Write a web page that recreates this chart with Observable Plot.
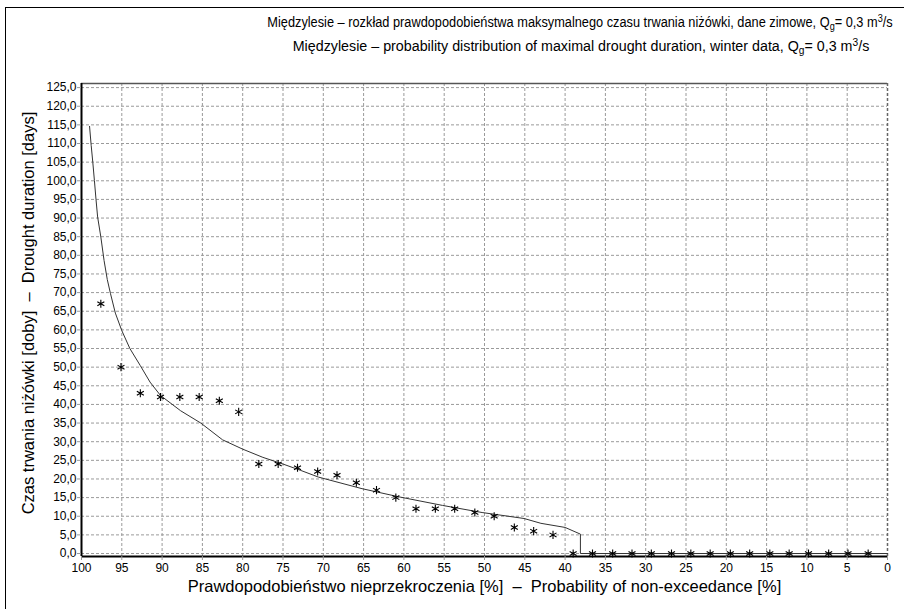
<!DOCTYPE html>
<html>
<head>
<meta charset="utf-8">
<script src="https://cdn.jsdelivr.net/npm/d3@7"></script>
<script src="https://cdn.jsdelivr.net/npm/@observablehq/plot@0.6"></script>
<style>
  body { margin: 0; background: #fff; }
  #wrap { position: relative; width: 904px; height: 609px; overflow: hidden; background: #fff;
          font-family: "Liberation Sans", Arial, sans-serif; }
  #chart { position: absolute; left: 0; top: 0; }
  #border { position: absolute; left: 5px; top: 7px; width: 1000px; height: 1000px; border: 1px solid #000; pointer-events: none; }
  .title { position: absolute; white-space: nowrap; width: max-content; font-size: 14px; color: #000; line-height: 16px;
           transform-origin: 50% 50%; transform: translate(-50%, -50%); }
  .title sub { font-size: 10px; vertical-align: -3px; line-height: 0; }
  .title sup { font-size: 10px; vertical-align: 5px; line-height: 0; }
</style>
</head>
<body>
<div id="wrap">
  <div id="chart"></div>
  <div id="border"></div>
  <div class="title" id="t1" data-w="625" style="left:580px; top:22px;">Międzylesie – rozkład prawdopodobieństwa maksymalnego czasu trwania niżówki, dane zimowe, Q<sub>g</sub>= 0,3 m<sup>3</sup>/s</div>
  <div class="title" id="t2" data-w="577" style="left:581px; top:46px;">Międzylesie – probability distribution of maximal drought duration, winter data, Q<sub>g</sub>= 0,3 m<sup>3</sup>/s</div>
</div>
<script>
// Observed points: probability of non-exceedance [%] and drought duration [days]
const pointProb = [2.4, 4.9, 7.3, 9.8, 12.2, 14.6, 17.1, 19.5, 22.0, 24.4,
                   26.8, 29.3, 31.7, 34.1, 36.6, 39.0, 41.5, 43.9, 46.3, 48.8,
                   51.2, 53.7, 56.1, 58.5, 61.0, 63.4, 65.9, 68.3, 70.7, 73.2,
                   75.6, 78.0, 80.5, 82.9, 85.4, 87.8, 90.2, 92.7, 95.1, 97.6];
const pointDays = [0, 0, 0, 0, 0, 0, 0, 0, 0, 0,
                   0, 0, 0, 0, 0, 0, 5, 6, 7, 10,
                   11, 12, 12, 12, 15, 17, 19, 21, 22, 23,
                   24, 24, 38, 41, 42, 42, 42, 43, 50, 67];

// Fitted distribution curve
const curveProb = [99.0, 98.8, 98.6, 98.4, 98.2, 98.0, 97.6, 97.2, 96.8, 96.4,
                   95.8, 95.0, 94.0, 92.7, 91.5, 90.2, 87.7, 85.2, 82.5, 80.0,
                   77.5, 75.0, 72.8, 70.6, 65.2, 60.6, 55.2, 50.3, 45.1, 43.0,
                   40.0, 38.1, 38.1, 0.0];
const curveDays = [114.6, 109.5, 105.0, 100.1, 95.0, 90.3, 84.9, 78.6, 73.5, 69.7,
                   64.5, 59.8, 55.0, 50.4, 46.0, 42.4, 38.3, 35.0, 30.5, 28.0,
                   25.8, 24.0, 22.3, 20.5, 17.4, 15.2, 12.9, 11.0, 9.4, 8.1,
                   7.0, 5.2, 0.0, 0.0];

const xTicks = [100, 95, 90, 85, 80, 75, 70, 65, 60, 55, 50, 45, 40, 35, 30, 25, 20, 15, 10, 5, 0];
const yTicks = [0, 5, 10, 15, 20, 25, 30, 35, 40, 45, 50, 55, 60, 65, 70, 75, 80, 85, 90, 95, 100, 105, 110, 115, 120, 125];

const yLabel = "Czas trwania niżówki [doby]  –  Drought duration [days]";
const xLabel = "Prawdopodobieństwo nieprzekroczenia [%]  –  Probability of non-exceedance [%]";

const points = pointProb.map((p, i) => ({p, d: pointDays[i]}));
const curve = curveProb.map((p, i) => ({p, d: curveDays[i]}));

const yMin = -0.8, yMax = 126.1;

const chart = Plot.plot({
  width: 904,
  height: 609,
  marginLeft: 81,
  marginRight: 17,
  marginTop: 83,
  marginBottom: 53,
  style: {fontFamily: "'Liberation Sans', Arial, sans-serif", fontSize: "12px", background: "transparent", color: "#000"},
  x: {domain: [100, 0], axis: null},
  y: {domain: [yMin, yMax], axis: null},
  marks: [
    Plot.gridX({ticks: xTicks, stroke: "#9a9a9a", strokeOpacity: 1, strokeDasharray: "3,2"}),
    Plot.gridY({ticks: yTicks, stroke: "#9a9a9a", strokeOpacity: 1, strokeDasharray: "3,2"}),
    Plot.ruleY([yMax], {stroke: "#555", strokeWidth: 1.5}),
    Plot.ruleX([0], {stroke: "#666", strokeWidth: 1.5, strokeDasharray: "3,2"}),
    Plot.line(curve, {x: "p", y: "d", stroke: "#333", strokeWidth: 1}),
    Plot.dot(points, {x: "p", y: "d", symbol: "asterisk", r: 3.8, stroke: "#000", strokeWidth: 1.1}),
    Plot.ruleX([100], {stroke: "#000", strokeWidth: 2}),
    Plot.ruleY([yMin], {stroke: "#000", strokeWidth: 2}),
    Plot.axisX({ticks: xTicks, tickFormat: d => String(d), tickSize: 4, tickPadding: 3, stroke: "#999", fill: "#000", fontSize: 12, label: null}),
    Plot.axisY({ticks: yTicks, tickFormat: d => d.toFixed(1).replace(".", ","), tickSize: 4, tickPadding: 1, stroke: "#999", fill: "#000", fontSize: 12, label: null}),
    Plot.text([yLabel], {frameAnchor: "left", textAnchor: "middle", dx: -53, dy: -7, rotate: -90, fontSize: 16.5, fill: "#000", text: d => d}),
    Plot.text([xLabel], {frameAnchor: "bottom", textAnchor: "middle", dy: 35, fontSize: 16.5, fill: "#000", text: d => d})
  ]
});
document.getElementById("chart").appendChild(chart);

// Fit each title line to the width it has in the reference
for (const el of document.querySelectorAll(".title")) {
  const w = el.offsetWidth;
  const target = +el.dataset.w;
  if (w > 0) el.style.transform = `translate(-50%, -50%) scaleX(${target / w})`;
}
</script>
</body>
</html>
